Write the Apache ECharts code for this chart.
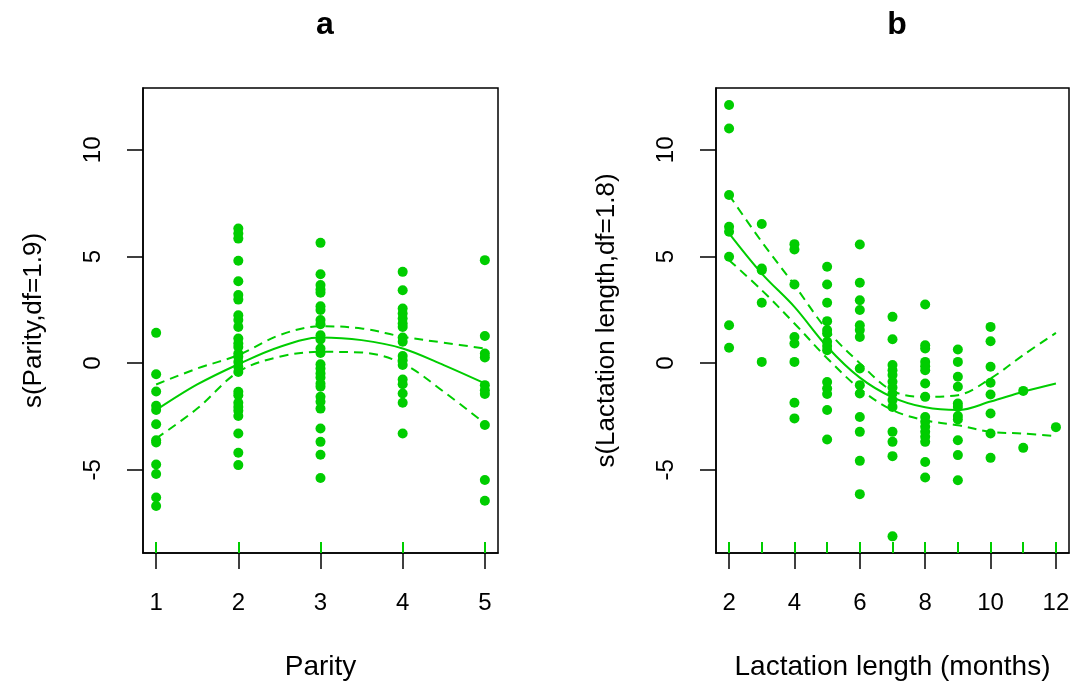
<!DOCTYPE html>
<html>
<head>
<meta charset="utf-8">
<script src="https://cdn.jsdelivr.net/npm/echarts@6.0.0/dist/echarts.min.js"></script>
<style>
html,body{margin:0;padding:0;background:#fff;}
#chart{width:1074px;height:687px;}
</style>
</head>
<body>
<div id="chart"></div>
<script>
// ---------- data ----------
const yMin = -8.9, yMax = 12.9;
const yTicks = [-5, 0, 5, 10];
const parityTicks = [1, 2, 3, 4, 5];
const lactTicks = [2, 4, 6, 8, 10, 12];

const parityLevels = [1, 2, 3, 4, 5];
const parityValues = [
  [1.42, -0.52, -1.33, -2.0, -2.2, -2.86, -3.61, -3.72, -4.75, -5.2, -6.3, -6.7],
  [6.31, 6.08, 5.84, 4.80, 3.84, 3.19, 2.98, 2.25, 2.02, 1.70, 1.16, 0.92, 0.76, 0.45, 0.30, 0.06, -0.17, -0.41, -1.34, -1.50, -1.86, -2.05, -2.23, -2.48, -3.30, -4.20, -4.78],
  [5.64, 4.17, 3.66, 3.45, 3.30, 2.67, 2.49, 2.02, 1.83, 1.31, 1.11, 0.69, 0.48, -0.05, -0.25, -0.48, -0.67, -0.96, -1.11, -1.58, -1.81, -2.13, -3.06, -3.69, -4.29, -5.38],
  [4.28, 3.42, 2.56, 2.33, 2.09, 1.86, 1.70, 1.20, 1.00, 0.33, 0.14, -0.09, -0.77, -0.99, -1.42, -1.86, -3.30],
  [4.83, 1.27, 0.45, 0.27, -1.03, -1.27, -1.45, -2.90, -5.48, -6.45]
];
const parityCurveX = [1, 1.5, 2, 2.5, 3, 3.5, 4, 4.5, 5];
const parityFit   = [-2.2, -1.0, -0.05, 0.76, 1.2, 1.08, 0.69, -0.09, -0.95];
const parityUpper = [-1.0, -0.25, 0.38, 1.31, 1.73, 1.63, 1.24, 0.96, 0.69];
const parityLower = [-3.53, -2.13, -0.41, 0.3, 0.53, 0.5, -0.02, -1.34, -2.83];

const lactLevels = [2, 3, 4, 5, 6, 7, 8, 9, 10, 11, 12];
const lactValues = [
  [12.10, 11.0, 7.88, 6.39, 6.16, 4.99, 1.78, 0.72],
  [6.52, 4.44, 4.36, 2.83, 0.06],
  [5.58, 5.33, 3.69, 1.23, 0.92, 0.06, -1.86, -2.59],
  [4.52, 3.69, 2.83, 1.97, 1.55, 1.39, 1.0, 0.8, 0.61, -0.88, -1.19, -1.45, -2.2, -3.58],
  [5.56, 3.77, 2.95, 2.49, 1.78, 1.55, 1.23, -0.25, -1.03, -1.42, -2.52, -3.22, -4.58, -6.14],
  [2.17, 1.12, -0.09, -0.33, -0.56, -0.87, -1.14, -1.42, -1.73, -2.05, -3.22, -3.69, -4.36, -8.12],
  [2.75, 0.84, 0.69, 0.06, -0.14, -0.33, -0.95, -1.58, -2.52, -2.75, -2.98, -3.22, -3.45, -3.69, -4.63, -5.36],
  [0.64, 0.06, -0.64, -1.11, -1.89, -2.05, -2.48, -2.64, -3.61, -4.31, -5.49],
  [1.70, 1.03, -0.17, -0.92, -1.47, -2.36, -3.3, -4.44],
  [-1.3, -3.97],
  [-3.0]
];
const lactCurveX = [2, 3, 4, 5, 6, 7, 8, 9, 10, 11, 12];
const lactFit   = [6.08, 4.2, 2.64, 0.77, -0.68, -1.6, -2.07, -2.2, -1.8, -1.34, -0.95];
const lactUpper = [7.88, 5.69, 3.66, 1.55, 0.0, -1.3, -1.58, -1.5, -0.72, 0.38, 1.42];
const lactLower = [4.83, 3.42, 1.86, 0.23, -1.2, -2.2, -2.68, -2.91, -3.22, -3.3, -3.42];

// ---------- build ----------
const GREEN = '#00CD00';
const FONT = 'Liberation Sans, Arial, Helvetica, sans-serif';

function points(levels, values) {
  const out = [];
  levels.forEach((x, i) => values[i].forEach(v => out.push([x, v])));
  return out;
}
function zip(xs, ys) { return xs.map((x, i) => [x, ys[i]]); }

function mainX(gi, min, max, ticks, name) {
  return {
    gridIndex: gi, type: 'value', min: min, max: max, position: 'bottom',
    axisLine: { show: true, onZero: false, lineStyle: { color: '#000', width: 1.5 } },
    axisTick: { show: true, customValues: ticks, length: 16, lineStyle: { color: '#000', width: 1.5 } },
    axisLabel: { customValues: ticks, margin: 38, fontSize: 24, color: '#000', fontFamily: FONT },
    splitLine: { show: false },
    name: name, nameLocation: 'middle', nameGap: 100,
    nameTextStyle: { fontSize: 28, color: '#000', fontFamily: FONT }
  };
}
function rugX(gi, min, max, levels) {
  return {
    gridIndex: gi, type: 'value', min: min, max: max, position: 'bottom',
    axisLine: { show: false, onZero: false },
    axisTick: { show: true, inside: true, customValues: levels, length: 11, lineStyle: { color: GREEN, width: 2 } },
    axisLabel: { show: false },
    splitLine: { show: false }
  };
}
function mainY(gi, name) {
  return {
    gridIndex: gi, type: 'value', min: yMin, max: yMax,
    axisLine: { show: true, onZero: false, lineStyle: { color: '#000', width: 1.5 } },
    axisTick: { show: true, customValues: yTicks, length: 16, lineStyle: { color: '#000', width: 1.5 } },
    axisLabel: { customValues: yTicks, rotate: 90, margin: 38, fontSize: 24, color: '#000', fontFamily: FONT },
    splitLine: { show: false },
    name: name, nameLocation: 'middle', nameRotate: 90, nameGap: 96,
    nameTextStyle: { fontSize: 26, color: '#000', fontFamily: FONT }
  };
}
function scatter(xi, yi, data) {
  return { type: 'scatter', xAxisIndex: xi, yAxisIndex: yi, data: data, symbol: 'circle', symbolSize: 10,
    itemStyle: { color: GREEN, opacity: 1 }, silent: true, z: 3 };
}
function curve(xi, yi, data, dashed) {
  return { type: 'line', xAxisIndex: xi, yAxisIndex: yi, data: data, smooth: 0.35, showSymbol: false, symbol: 'none',
    lineStyle: { color: GREEN, width: 2, type: dashed ? [9, 6] : 'solid' }, silent: true, z: 4 };
}

const option = {
  animation: false,
  backgroundColor: '#fff',
  textStyle: { fontFamily: FONT },
  title: [
    { text: 'a', left: 320, top: 4, textAlign: 'center', textStyle: { fontSize: 32, fontWeight: 'bold', color: '#000', fontFamily: FONT } },
    { text: 'b', left: 892, top: 4, textAlign: 'center', textStyle: { fontSize: 32, fontWeight: 'bold', color: '#000', fontFamily: FONT } }
  ],
  grid: [
    { left: 143, top: 88, width: 355, height: 465, show: true, borderColor: '#000', borderWidth: 1.5, backgroundColor: '#fff' },
    { left: 716, top: 88, width: 353, height: 465, show: true, borderColor: '#000', borderWidth: 1.5, backgroundColor: '#fff' }
  ],
  xAxis: [
    mainX(0, 0.84, 5.16, parityTicks, 'Parity'),
    mainX(1, 1.6, 12.4, lactTicks, 'Lactation length (months)'),
    rugX(0, 0.84, 5.16, parityLevels),
    rugX(1, 1.6, 12.4, lactLevels)
  ],
  yAxis: [
    mainY(0, 's(Parity,df=1.9)'),
    mainY(1, 's(Lactation length,df=1.8)')
  ],
  series: [
    scatter(0, 0, points(parityLevels, parityValues)),
    curve(0, 0, zip(parityCurveX, parityFit), false),
    curve(0, 0, zip(parityCurveX, parityUpper), true),
    curve(0, 0, zip(parityCurveX, parityLower), true),
    scatter(1, 1, points(lactLevels, lactValues)),
    curve(1, 1, zip(lactCurveX, lactFit), false),
    curve(1, 1, zip(lactCurveX, lactUpper), true),
    curve(1, 1, zip(lactCurveX, lactLower), true)
  ]
};

const chart = echarts.init(document.getElementById('chart'), null, { renderer: 'canvas' });
chart.setOption(option);
</script>
</body>
</html>
